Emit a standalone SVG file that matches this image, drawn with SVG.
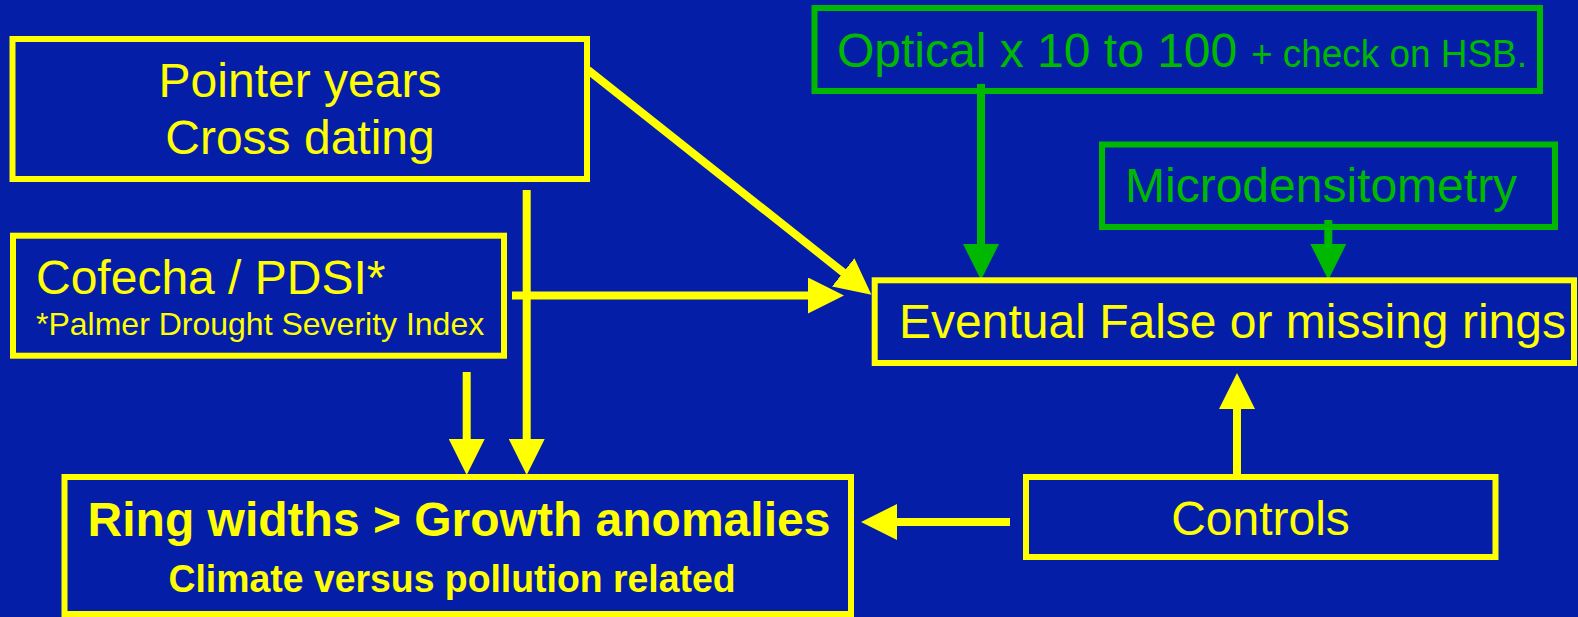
<svg xmlns="http://www.w3.org/2000/svg" width="1578" height="617" viewBox="0 0 1578 617">
<style>
.ybox{fill:none;stroke:#FFFF00;stroke-width:6}
.gbox{fill:none;stroke:#00B800;stroke-width:6}
.yt{fill:#FFFF00;font-family:"Liberation Sans",Arial,sans-serif}
.gt{fill:#00B800;font-family:"Liberation Sans",Arial,sans-serif}
.yl{stroke:#FFFF00;stroke-width:8;fill:none}
.gl{stroke:#00B800;stroke-width:8;fill:none}
</style>
<defs>
<marker id="ya" markerUnits="userSpaceOnUse" markerWidth="36" markerHeight="36" refX="1" refY="18" orient="auto" viewBox="0 0 36 36">
<path d="M0,0 L36,18 L0,36 z" fill="#FFFF00"/>
</marker>
<marker id="ga" markerUnits="userSpaceOnUse" markerWidth="36" markerHeight="36" refX="1" refY="18" orient="auto" viewBox="0 0 36 36">
<path d="M0,0 L36,18 L0,36 z" fill="#00B800"/>
</marker>
</defs>
<rect x="0" y="0" width="1578" height="617" fill="#041EA8"/>
<g id="connectors">
<line class="yl" x1="588" y1="70" x2="844" y2="273" marker-end="url(#ya)"/>
<line class="yl" x1="512" y1="295.5" x2="809" y2="295.5" marker-end="url(#ya)"/>
<line class="yl" x1="526.7" y1="190" x2="526.7" y2="440" marker-end="url(#ya)"/>
<line class="yl" x1="466.7" y1="372" x2="466.7" y2="440" marker-end="url(#ya)"/>
<line class="yl" x1="1010" y1="522" x2="896" y2="522" marker-end="url(#ya)"/>
<line class="yl" x1="1237" y1="477" x2="1237" y2="408" marker-end="url(#ya)"/>
<line class="gl" x1="981" y1="84" x2="981" y2="245" marker-end="url(#ga)"/>
<line class="gl" x1="1328.3" y1="220" x2="1328.3" y2="245" marker-end="url(#ga)"/>
</g>
<g id="pointer">
<rect class="ybox" x="12.5" y="39" width="574.5" height="140"/>
<text class="yt" x="300" y="97" font-size="48" text-anchor="middle">Pointer years</text>
<text class="yt" x="300" y="154" font-size="48" text-anchor="middle">Cross dating</text>
</g>
<g id="cofecha">
<rect class="ybox" x="13" y="235.7" width="491" height="120"/>
<text class="yt" x="36" y="294" font-size="48">Cofecha / PDSI*</text>
<text class="yt" x="36" y="335" font-size="32">*Palmer Drought Severity Index</text>
</g>
<g id="optical">
<rect class="gbox" x="814.5" y="8" width="725.5" height="83"/>
<text class="gt" x="837" y="67" font-size="48">Optical x 10 to 100</text>
<text class="gt" x="1251" y="67" font-size="38" textLength="276" lengthAdjust="spacingAndGlyphs">+ check on HSB.</text>
</g>
<g id="micro">
<rect class="gbox" x="1102" y="144.5" width="453" height="82.5"/>
<text class="gt" x="1125" y="202" font-size="48">Microdensitometry</text>
</g>
<g id="eventual">
<rect class="ybox" x="874.7" y="280.3" width="699.3" height="82.7"/>
<text class="yt" x="899" y="338" font-size="48">Eventual False or missing rings</text>
</g>
<g id="ringwidths">
<rect class="ybox" x="64.5" y="477" width="786.5" height="137"/>
<text class="yt" x="459" y="536" font-size="48" font-weight="bold" text-anchor="middle">Ring widths &gt; Growth anomalies</text>
<text class="yt" x="452" y="592" font-size="38" font-weight="bold" text-anchor="middle" textLength="567" lengthAdjust="spacingAndGlyphs">Climate versus pollution related</text>
</g>
<g id="controls">
<rect class="ybox" x="1026" y="477" width="469.5" height="80"/>
<text class="yt" x="1260.5" y="535" font-size="48" text-anchor="middle">Controls</text>
</g>
</svg>
